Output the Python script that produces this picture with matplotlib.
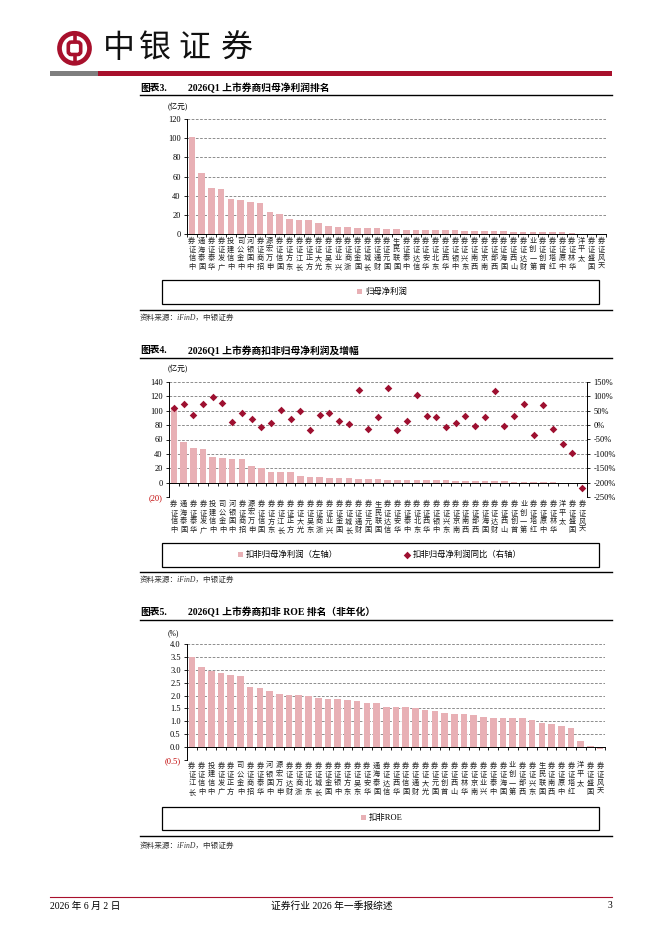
import numpy as np
import matplotlib
matplotlib.use('Agg')
import matplotlib.pyplot as plt
from matplotlib.patches import Rectangle, Circle, FancyBboxPatch

plt.rcParams['font.family'] = ['Liberation Serif', 'Noto Sans CJK SC']
plt.rcParams['axes.unicode_minus'] = False

# ---- data read from the page ----
brokers_np = ['中信证券', '国泰海通', '华泰证券', '广发证券', '中信建投', '中金公司', '中国银河', '招商证券',
              '申万宏源', '国信证券', '东方证券', '长江证券', '方正证券', '光大证券', '东吴证券', '兴业证券',
              '浙商证券', '国金证券', '长城证券', '财通证券', '国元证券', '国联民生', '中泰证券', '信达证券',
              '华安证券', '东北证券', '华西证券', '中银证券', '东兴证券', '西南证券', '南京证券', '西部证券',
              '国海证券', '山西证券', '财达证券', '第一创业', '首创证券', '红塔证券', '中原证券', '华林证券',
              '太平洋', '国盛证券', '天风证券']
net_profit = [101.6, 63.7, 48.0, 47.3, 36.9, 35.8, 33.0, 32.7, 23.3, 21.2, 16.0, 15.0, 14.6, 11.8, 8.3,
              7.7, 7.6, 6.6, 6.3, 6.2, 5.5, 4.9, 4.6, 4.5, 4.2, 4.1, 3.9, 3.8, 3.6, 3.4, 3.2, 2.9, 2.7,
              2.5, 2.4, 2.2, 1.9, 1.8, 1.7, 1.3, 0.3, 0.2, 0.1]

brokers_dnp = ['中信证券', '国泰海通', '华泰证券', '广发证券', '中信建投', '中金公司', '中国银河', '招商证券',
               '申万宏源', '国信证券', '东方证券', '长江证券', '方正证券', '光大证券', '东吴证券', '浙商证券',
               '兴业证券', '国金证券', '长城证券', '财通证券', '国元证券', '国联民生', '信达证券', '华安证券',
               '中泰证券', '东北证券', '华西证券', '中银证券', '东兴证券', '南京证券', '西南证券', '西部证券',
               '国海证券', '财达证券', '山西证券', '首创证券', '第一创业', '红塔证券', '中原证券', '华林证券',
               '太平洋', '国盛证券', '天风证券']
deducted_profit = [105.0, 57.2, 48.4, 47.0, 35.8, 34.9, 33.0, 32.6, 22.8, 20.9, 15.3, 14.9, 14.9, 9.8, 7.9,
                   7.4, 7.0, 7.0, 6.0, 5.6, 5.6, 5.1, 4.2, 4.2, 3.7, 3.7, 3.7, 3.3, 3.3, 2.8, 2.8, 2.3, 2.3,
                   1.9, 1.9, 1.4, 1.4, 0.9, 0.9, 0.5, -0.6, -0.3, -2.5]
deducted_yoy = [58, 74, 34, 73, 99, 77, 10, 42, 21, -8, 8, 52, 23, 50, -17, 36, 42, 15, 3, 121, -15, 29,
                128, -17, 15, 106, 31, 29, -6, 8, 33, -2, 29, 117, -3, 33, 72, -36, 69, -12, -66, -97, -219]

brokers_roe = ['长江证券', '中信证券', '中信建投', '广发证券', '方正证券', '中金公司', '招商证券', '华泰证券',
               '中国银河', '申万宏源', '财达证券', '浙商证券', '东北证券', '长城证券', '国金证券', '中银证券',
               '东方证券', '东吴证券', '华安证券', '国泰海通', '信达证券', '华西证券', '国信证券', '财通证券',
               '光大证券', '国元证券', '首创证券', '山西证券', '华林证券', '南京证券', '兴业证券', '中泰证券',
               '国海证券', '第一创业', '西部证券', '东兴证券', '国联民生', '西南证券', '中原证券', '红塔证券',
               '太平洋', '国盛证券', '天风证券']
roe = [3.49, 3.12, 2.94, 2.88, 2.82, 2.78, 2.35, 2.30, 2.19, 2.05, 2.04, 2.01, 2.00, 1.92, 1.88, 1.86,
       1.84, 1.79, 1.71, 1.71, 1.57, 1.56, 1.55, 1.53, 1.42, 1.40, 1.32, 1.29, 1.27, 1.26, 1.17, 1.14,
       1.13, 1.12, 1.12, 1.05, 0.92, 0.91, 0.83, 0.75, 0.23, 0.03, -0.09]

BAR = '#E8B0B5'
DOT = '#9E1030'
RED = '#A8102C'
NEG = '#C00000'
W, H = 662, 936


def box(x0, y0, x1, y1):
    return [x0 / W, 1 - y1 / H, (x1 - x0) / W, (y1 - y0) / H]


def stacked(name):
    # characters upright, read bottom to top
    return '\n'.join(reversed(name))


def style_axes(ax, names, pad, yticks, ylabels):
    n = len(names)
    ax.set_xlim(-0.5, n - 0.5)
    for s in ['top', 'right']:
        ax.spines[s].set_visible(False)
    ax.spines['bottom'].set_position(('data', 0))
    for s in ['left', 'bottom']:
        ax.spines[s].set_linewidth(0.7)
    ax.set_xticks(range(n))
    ax.set_xticklabels([stacked(b) for b in names], fontsize=5.2, linespacing=1.12, va='top',
                       family='Noto Sans CJK SC', color='#222222')
    ax.set_xticks(np.arange(-0.5, n), minor=True)
    ax.tick_params(axis='x', which='major', length=0, pad=pad)
    ax.tick_params(axis='x', which='minor', length=2.5, width=0.6, direction='out')
    ax.set_yticks(yticks)
    ax.set_yticklabels(ylabels, fontsize=6)
    ax.tick_params(axis='y', length=2.5, width=0.6, direction='out', pad=2)
    ax.grid(axis='y', color='#6F6F6F', linestyle=(0, (3.5, 2)), linewidth=0.55)
    ax.set_axisbelow(True)
    for t, v in zip(ax.yaxis.get_major_ticks(), yticks):
        if v <= 0:
            t.gridline.set_visible(False)
        if v < 0:
            t.label1.set_color(NEG)


fig = plt.figure(figsize=(W / 100, H / 100), dpi=100)

# ---- page decoration layer ----
deco = fig.add_axes([0, 0, 1, 1])
deco.set_xlim(0, W)
deco.set_ylim(H, 0)
deco.axis('off')

# logo
deco.add_patch(Circle((74.5, 48.3), 15.0, fill=False, ec=RED, lw=3.4))
deco.add_patch(FancyBboxPatch((68.3, 42.1), 12.4, 12.4, boxstyle='round,pad=0,rounding_size=3',
                              fill=False, ec=RED, lw=2.6))
deco.plot([74.5, 74.5], [32, 42.1], color=RED, lw=2.6, solid_capstyle='butt')
deco.plot([74.5, 74.5], [54.5, 64.5], color=RED, lw=2.6, solid_capstyle='butt')
for ch, cx in zip('中银证券', [119, 155, 194.5, 236.5]):
    deco.text(cx, 48.5, ch, fontsize=23, ha='center', va='center', family='Noto Sans CJK SC',
              color='#111111')
deco.add_patch(Rectangle((50, 71), 48, 5, color='#7F7F7F', lw=0))
deco.add_patch(Rectangle((98, 71), 514, 5, color=RED, lw=0))

# footer
deco.plot([50, 612], [897, 897], color=RED, lw=0.8)
deco.text(50, 906, '2026 年 6 月 2 日', fontsize=7, va='center', ha='left')
deco.text(332, 906, '证券行业 2026 年一季报综述', fontsize=7, va='center', ha='center')
deco.text(612, 906, '3', fontsize=7, va='center', ha='right')

blocks = [
    (88, 95, '图表3.', '2026Q1 上市券商归母净利润排名', 107, '(亿元)', 280, 304, 310, 318),
    (351, 358, '图表4.', '2026Q1 上市券商扣非归母净利润及增幅', 369, '(亿元)', 543, 567, 572, 580),
    (612, 620, '图表5.', '2026Q1 上市券商扣非 ROE 排名（非年化）', 633, '(%)', 807, 830, 836, 846),
]
for ty, ly, tag, title, uy, unit, b0, b1, by, sy in blocks:
    deco.text(140, ty, tag, fontsize=7, fontweight='bold', va='center')
    deco.text(188, ty, title, fontsize=7, fontweight='bold', va='center')
    deco.plot([140, 612], [ly, ly], color='black', lw=1.0)
    deco.text(168, uy, unit, fontsize=5.5, va='center')
    deco.add_patch(Rectangle((162, b0), 437, b1 - b0, fill=False, ec='black', lw=0.9))
    deco.plot([140, 612], [by, by], color='black', lw=1.0)
    deco.text(140, sy, '资料来源：iFinD，中银证券', fontsize=5.5, style='italic', va='center',
              color='#333333')

leg_kw = dict(loc='center', frameon=False, fontsize=6, handlelength=0.55, handleheight=0.55,
              handletextpad=0.4, borderaxespad=0)

# ---- chart 3 ----
ax3 = fig.add_axes(box(187, 119, 606, 234))
x3 = np.arange(len(brokers_np))
bars3 = ax3.bar(x3, net_profit, width=0.68, color=BAR, zorder=2)
ax3.set_ylim(0, 120)
style_axes(ax3, brokers_np, 2.0, list(range(0, 121, 20)), [str(v) for v in range(0, 121, 20)])
fig.legend([bars3], ['归母净利润'], bbox_to_anchor=(382 / W, 1 - 292 / H), **leg_kw)

# ---- chart 4 ----
ax4 = fig.add_axes(box(169, 382, 587, 497))
x4 = np.arange(len(brokers_dnp))
bars4 = ax4.bar(x4, deducted_profit, width=0.68, color=BAR, zorder=2)
ax4.set_ylim(-20, 140)
yt4 = list(range(-20, 141, 20))
style_axes(ax4, brokers_dnp, 12.5, yt4, ['(20)' if v < 0 else str(v) for v in yt4])
ax4r = ax4.twinx()
pts4 = ax4r.scatter(x4, deducted_yoy, marker='D', s=15, color=DOT, zorder=3, linewidths=0)
ax4r.set_ylim(-250, 150)
ax4r.set_xlim(-0.5, len(brokers_dnp) - 0.5)
yr = list(range(-250, 151, 50))
ax4r.set_yticks(yr)
ax4r.set_yticklabels([f'{v}%' for v in yr], fontsize=6)
ax4r.tick_params(axis='y', length=2.5, width=0.6, direction='out', pad=2)
for s in ['top', 'left', 'bottom']:
    ax4r.spines[s].set_visible(False)
ax4r.spines['right'].set_linewidth(0.7)
fig.legend([bars4, pts4], ['扣非归母净利润（左轴）', '扣非归母净利润同比（右轴）'],
           bbox_to_anchor=(380 / W, 1 - 555 / H), ncol=2, columnspacing=8, **leg_kw)

# ---- chart 5 ----
ax5 = fig.add_axes(box(187, 644.3, 605, 759.7))
x5 = np.arange(len(brokers_roe))
bars5 = ax5.bar(x5, roe, width=0.68, color=BAR, zorder=2)
ax5.set_ylim(-0.5, 4.0)
yt5 = [v / 2 for v in range(-1, 9)]
style_axes(ax5, brokers_roe, 10.5, yt5, ['(0.5)' if v < 0 else f'{v:.1f}' for v in yt5])
fig.legend([bars5], ['扣非ROE'], bbox_to_anchor=(382 / W, 1 - 818 / H), **leg_kw)

fig.savefig('out.png', dpi=100)
